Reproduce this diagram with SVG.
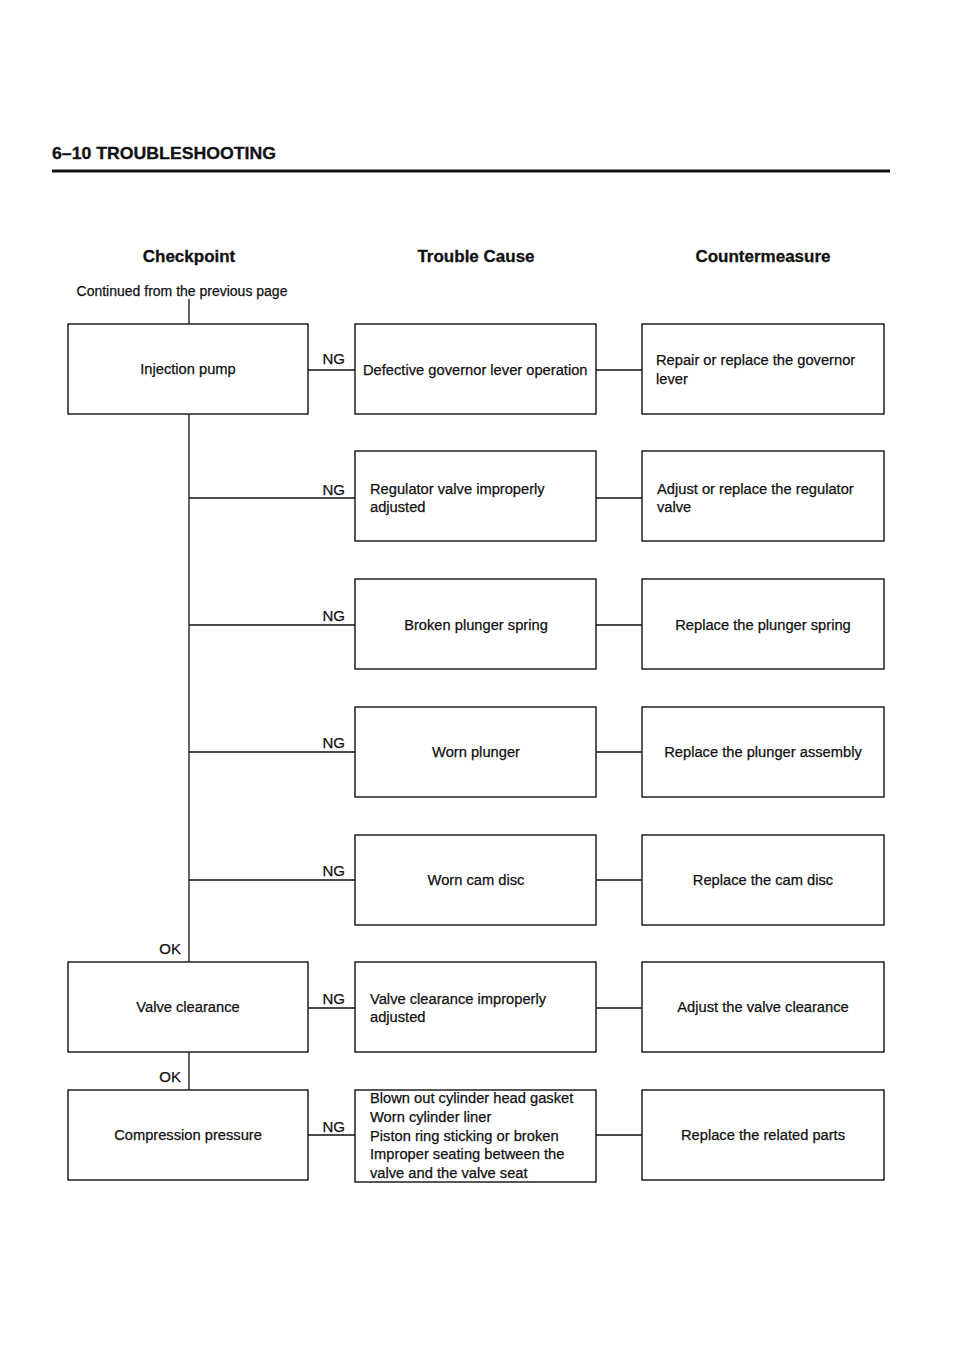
<svg xmlns="http://www.w3.org/2000/svg" width="960" height="1356" viewBox="0 0 960 1356">
<style>
text{font-family:"Liberation Sans",Arial,sans-serif;fill:#111;font-size:14.7px;stroke:#111;stroke-width:0.25}
.h{font-weight:bold;font-size:17px;stroke-width:0.3}
.c{text-anchor:middle}
.r{text-anchor:end}
.lbl{font-size:15px}
.sm{font-size:14px}
rect{fill:#fff;stroke:#111;stroke-width:1.4}
.con line{stroke:#111;stroke-width:1.3}
</style>
<rect x="0" y="0" width="960" height="1356" style="fill:#fff;stroke:none"/>
<text x="52" y="159" class="h" textLength="224" lengthAdjust="spacingAndGlyphs">6–10 TROUBLESHOOTING</text>
<line x1="52" y1="171" x2="890" y2="171" stroke="#111" stroke-width="3"/>
<text x="189" y="262" class="h c">Checkpoint</text>
<text x="476" y="262" class="h c">Trouble Cause</text>
<text x="763" y="262" class="h c">Countermeasure</text>
<text x="182" y="296" class="c sm">Continued from the previous page</text>

<g class="con" id="connectors">
<line x1="189" y1="299" x2="189" y2="324"/>
<line x1="189" y1="414" x2="189" y2="962"/>
<line x1="189" y1="1052" x2="189" y2="1090"/>
<line x1="308" y1="370" x2="355" y2="370"/>
<line x1="189" y1="498" x2="355" y2="498"/>
<line x1="189" y1="625" x2="355" y2="625"/>
<line x1="189" y1="752" x2="355" y2="752"/>
<line x1="189" y1="880" x2="355" y2="880"/>
<line x1="308" y1="1008" x2="355" y2="1008"/>
<line x1="308" y1="1135" x2="355" y2="1135"/>
<line x1="596" y1="370" x2="642" y2="370"/>
<line x1="596" y1="498" x2="642" y2="498"/>
<line x1="596" y1="625" x2="642" y2="625"/>
<line x1="596" y1="752" x2="642" y2="752"/>
<line x1="596" y1="880" x2="642" y2="880"/>
<line x1="596" y1="1008" x2="642" y2="1008"/>
<line x1="596" y1="1135" x2="642" y2="1135"/>
<text x="345" y="364" class="r lbl">NG</text>
<text x="345" y="495" class="r lbl">NG</text>
<text x="345" y="621" class="r lbl">NG</text>
<text x="345" y="748" class="r lbl">NG</text>
<text x="345" y="876" class="r lbl">NG</text>
<text x="345" y="1004" class="r lbl">NG</text>
<text x="345" y="1132" class="r lbl">NG</text>
<text x="181" y="954" class="r lbl">OK</text>
<text x="181" y="1082" class="r lbl">OK</text>
</g>

<g id="injection-pump"><rect x="68" y="324" width="240" height="90"/><text x="188" y="374" class="c">Injection pump</text></g>
<g id="valve-clearance"><rect x="68" y="962" width="240" height="90"/><text x="188" y="1012" class="c">Valve clearance</text></g>
<g id="compression-pressure"><rect x="68" y="1090" width="240" height="90"/><text x="188" y="1140" class="c">Compression pressure</text></g>

<g id="cause-governor"><rect x="355" y="324" width="241" height="90"/><text x="363" y="375">Defective governor lever operation</text></g>
<g id="cause-regulator"><rect x="355" y="451" width="241" height="90"/><text x="370" y="494">Regulator valve improperly</text><text x="370" y="512">adjusted</text></g>
<g id="cause-spring"><rect x="355" y="579" width="241" height="90"/><text x="476" y="630" class="c">Broken plunger spring</text></g>
<g id="cause-plunger"><rect x="355" y="707" width="241" height="90"/><text x="476" y="757" class="c">Worn plunger</text></g>
<g id="cause-cam"><rect x="355" y="835" width="241" height="90"/><text x="476" y="885" class="c">Worn cam disc</text></g>
<g id="cause-valve"><rect x="355" y="962" width="241" height="90"/><text x="370" y="1004">Valve clearance improperly</text><text x="370" y="1022">adjusted</text></g>
<g id="cause-compression"><rect x="355" y="1090" width="241" height="92"/>
<text x="370" y="1103">Blown out cylinder head gasket</text>
<text x="370" y="1122">Worn cylinder liner</text>
<text x="370" y="1141">Piston ring sticking or broken</text>
<text x="370" y="1159">Improper seating between the</text>
<text x="370" y="1178">valve and the valve seat</text></g>

<g id="fix-governor"><rect x="642" y="324" width="242" height="90"/><text x="656" y="365">Repair or replace the governor</text><text x="656" y="384">lever</text></g>
<g id="fix-regulator"><rect x="642" y="451" width="242" height="90"/><text x="657" y="494">Adjust or replace the regulator</text><text x="657" y="512">valve</text></g>
<g id="fix-spring"><rect x="642" y="579" width="242" height="90"/><text x="763" y="630" class="c">Replace the plunger spring</text></g>
<g id="fix-plunger"><rect x="642" y="707" width="242" height="90"/><text x="763" y="757" class="c">Replace the plunger assembly</text></g>
<g id="fix-cam"><rect x="642" y="835" width="242" height="90"/><text x="763" y="885" class="c">Replace the cam disc</text></g>
<g id="fix-valve"><rect x="642" y="962" width="242" height="90"/><text x="763" y="1012" class="c">Adjust the valve clearance</text></g>
<g id="fix-parts"><rect x="642" y="1090" width="242" height="90"/><text x="763" y="1140" class="c">Replace the related parts</text></g>
</svg>
